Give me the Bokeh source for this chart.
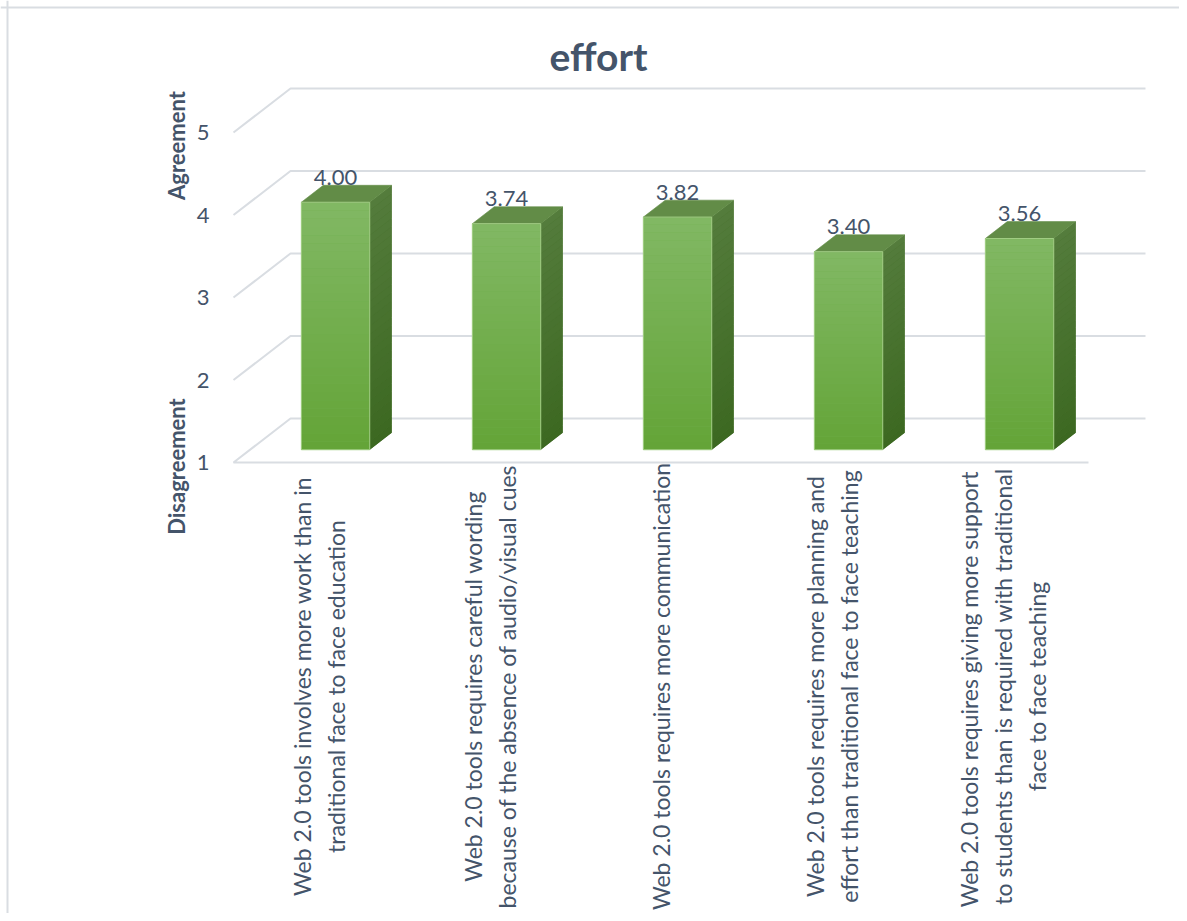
import numpy as np
from bokeh.plotting import figure
from bokeh.models import Range1d, Span
from bokeh.core.properties import value
from bokeh.embed import file_html
from bokeh.resources import INLINE

# ---------------- data ----------------
title_text = "effort"
categories = [
    "Web 2.0 tools involves more work than in\ntraditional face to face education",
    "Web 2.0 tools requires careful wording\nbecause of the absence of audio/visual cues",
    "Web 2.0 tools requires more communication",
    "Web 2.0 tools requires more planning and\neffort than traditional face to face teaching",
    "Web 2.0 tools  requires giving more support\nto students than is required with traditional\nface to face teaching",
]
values = [4.00, 3.74, 3.82, 3.40, 3.56]
y_ticks = [1, 2, 3, 4, 5]
y_tick_labels = ["1", "2", "3", "4", "5"]
label_high = "Agreement"
label_low = "Disagreement"

# ---------------- layout (pixels) ----------------
W, H = 1179, 913
OFF_X, OFF_Y = 0, 0
CAT_PX = 171.0      # px per category
X0_PX = 318.5       # page x of first category centre (front plane)
UNIT_PX = 82.5      # px per value unit
Y1_PX = 462.0       # page y of value 1 on front plane

x_start = (OFF_X - X0_PX) / CAT_PX
x_end = (OFF_X + W - X0_PX) / CAT_PX
y_end = 1 + (Y1_PX - OFF_Y) / UNIT_PX
y_start = 1 - (OFF_Y + H - Y1_PX) / UNIT_PX

def px_x(px):
    return (px - X0_PX) / CAT_PX

def px_y(py):
    return 1 + (Y1_PX - py) / UNIT_PX

DX = 57.0 / CAT_PX     # full depth offset, x units
DY = 44.0 / UNIT_PX    # full depth offset, value units
A, B = 0.29, 0.675     # bar front / back depth fraction
BW = 0.40              # bar width (category units)
BASE = y_ticks[0]

TEXT = "#44546A"
GRID = "#D9DDE2"
FONT = "Lato"

p = figure(width=W, height=H, x_range=Range1d(x_start, x_end), y_range=Range1d(y_start, y_end),
           x_axis_type=None, y_axis_type=None, output_backend="svg", toolbar_location=None,
           min_border=0, outline_line_color=None, background_fill_color="white",
           border_fill_color="white")
p.title.visible = False
p.grid.visible = False

# border (top & left)
p.add_layout(Span(location=px_y(7), dimension="width", line_color=GRID, line_width=2))
p.add_layout(Span(location=px_x(7), dimension="height", line_color=GRID, line_width=2))

n = len(categories)
xl_front = -0.5
xr_front = n - 0.5

# back wall gridlines + floor
gx, gy = [], []
for t in y_ticks:
    if t == BASE:
        gx.append([xr_front, xl_front, xl_front + DX, xr_front + DX])
        gy.append([t, t, t + DY, t + DY])
    else:
        gx.append([xl_front, xl_front + DX, xr_front + DX])
        gy.append([t, t + DY, t + DY])
p.multi_line(gx, gy, line_color=GRID, line_width=2)

# colours
def lerp(c0, c1, t):
    return "#%02x%02x%02x" % tuple(int(round(a + (b - a) * t)) for a, b in zip(c0, c1))

FRONT_BOT, FRONT_TOP = (99, 164, 55), (130, 184, 100)
SIDE_BOT, SIDE_TOP = (60, 104, 33), (84, 124, 60)
TOP_COL = "#628c47"

N = 30
fl, fr, fb, ft, fc = [], [], [], [], []
sx, sy, sc = [], [], []
bsx, bsy = [], []
tx, ty = [], []
ox, oy = [], []
for i, v in enumerate(values):
    xl = i - BW / 2
    xr = i + BW / 2
    for k in range(N):
        y0 = BASE + (v - BASE) * k / N
        y1 = BASE + (v - BASE) * (k + 1) / N
        t = (k + 0.5) / N
        fl.append(xl + A * DX); fr.append(xr + A * DX)
        fb.append(y0 + A * DY); ft.append(y1 + A * DY)
        fc.append(lerp(FRONT_BOT, FRONT_TOP, t))
        sx.append([xr + A * DX, xr + B * DX, xr + B * DX, xr + A * DX])
        sy.append([y0 + A * DY, y0 + B * DY, y1 + B * DY, y1 + A * DY])
        sc.append(lerp(SIDE_BOT, SIDE_TOP, t))
    bsx.append([xr + A * DX, xr + B * DX, xr + B * DX, xr + A * DX])
    bsy.append([BASE + A * DY, BASE + B * DY, v + B * DY, v + A * DY])
    tx.append([xl + A * DX, xr + A * DX, xr + B * DX, xl + B * DX])
    ty.append([v + A * DY, v + A * DY, v + B * DY, v + B * DY])
    ox.append(i + A * DX)
    oy.append(v + B * DY)

front_l = [i - BW / 2 + A * DX for i in range(n)]
front_r = [i + BW / 2 + A * DX for i in range(n)]
front_b = [BASE + A * DY] * n
front_t = [v + A * DY for v in values]

# solid base faces, then gradient slices
p.quad(left=front_l, right=front_r, bottom=front_b, top=front_t,
       fill_color=lerp(FRONT_BOT, FRONT_TOP, 0.5), line_color=None)
p.patches(bsx, bsy, fill_color=lerp(SIDE_BOT, SIDE_TOP, 0.5), line_color=None)
p.quad(left=fl, right=fr, bottom=fb, top=ft, fill_color=fc, line_color=None)
p.patches(sx, sy, fill_color=sc, line_color=None)
p.patches(tx, ty, fill_color=TOP_COL, line_color=TOP_COL, line_width=0.6)
# light edge of front faces
p.quad(left=front_l, right=front_r, bottom=front_b, top=front_t,
       fill_color=None, line_color="#a3cf86", line_width=1)

# value labels
p.text(x=ox, y=oy, text=["%.2f" % v for v in values], text_align="center",
       text_baseline="alphabetic", y_offset=-8, text_color=TEXT, text_font=value(FONT),
       text_font_size="22px")

# y tick labels
p.text(x=[px_x(209)] * len(y_ticks), y=y_ticks, text=y_tick_labels, text_align="right",
       text_baseline="middle", text_color=TEXT, text_font=value(FONT), text_font_size="22px")

# side labels
p.text(x=[px_x(176), px_x(176)], y=[px_y(145), px_y(466)], text=[label_high, label_low],
       angle=np.pi / 2, text_align="center", text_baseline="middle", text_color=TEXT,
       text_font=value(FONT), text_font_size="22px", text_font_style="bold")

# category labels
p.text(x=list(range(n)), y=[px_y(686)] * n, text=categories, angle=np.pi / 2,
       text_align="center", text_baseline="middle", text_color=TEXT, text_font=value(FONT),
       text_font_size="23px", text_line_height=1.2)

# title
p.text(x=[px_x(598)], y=[px_y(55)], text=[title_text], text_align="center", text_baseline="middle",
       text_color=TEXT, text_font=value(FONT), text_font_size="39px", text_font_style="bold")

open("out.html", "w").write(file_html(p, INLINE))
